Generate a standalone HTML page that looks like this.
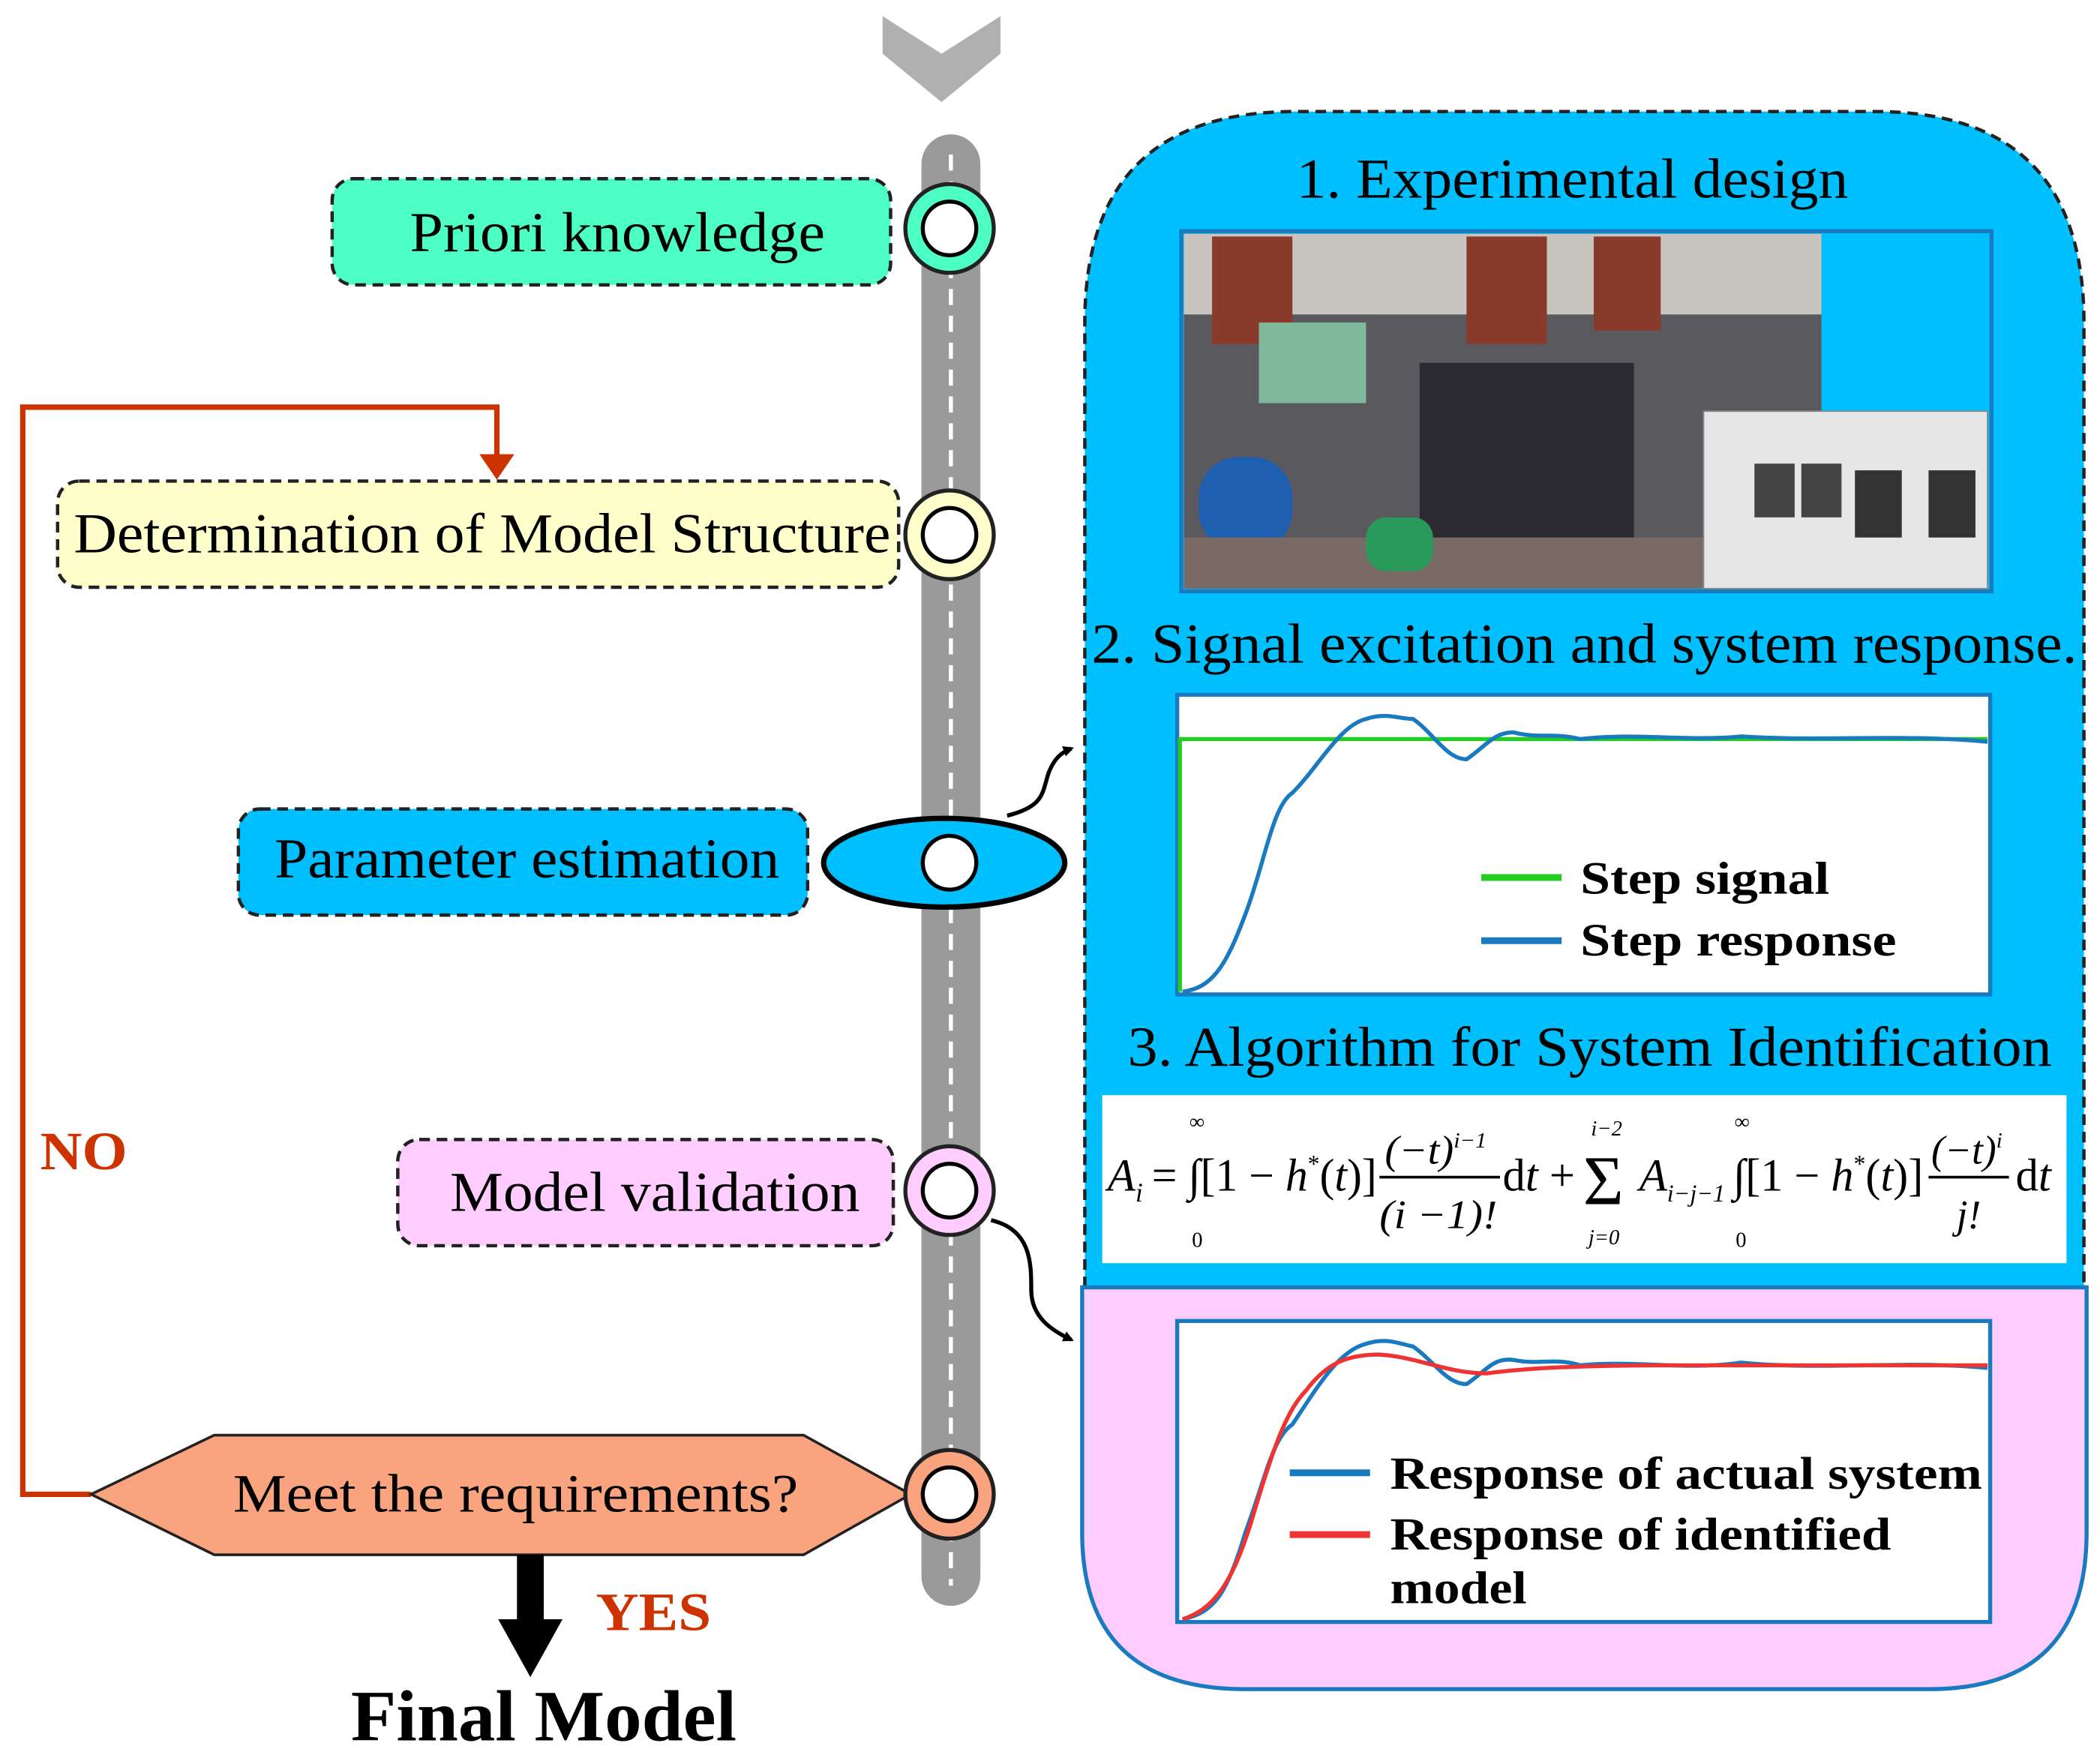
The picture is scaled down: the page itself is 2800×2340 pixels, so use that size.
<!DOCTYPE html>
<html><head><meta charset="utf-8"><style>html,body{margin:0;padding:0;background:#fff}svg{display:block}</style></head><body>
<svg width="2800" height="2340" viewBox="0 0 1568 1306" preserveAspectRatio="none" xmlns="http://www.w3.org/2000/svg" font-family="'Liberation Serif',serif">
<defs>
<marker id="ab" markerWidth="8" markerHeight="8" refX="6" refY="4" orient="auto" markerUnits="userSpaceOnUse"><path d="M0,0 L8,4 L0,8 z" fill="#000"/></marker>
</defs>
<rect width="1568" height="1306" fill="#fff"/>
<path d="M659,12 L703,40 L747,12 L747,40 L703,76 L659,40 Z" fill="#b0b0b0"/>
<path d="M665,14 L703,38 L741,14" fill="none" stroke="#fff" stroke-width="3"/>
<rect x="688" y="100" width="44" height="1095" rx="22" fill="#9a9a9a"/>
<line x1="710" y1="115" x2="710" y2="1180" stroke="#fff" stroke-width="3" stroke-dasharray="12,8"/>
<polyline points="68,1112 17,1112 17,303 371,303 371,340" fill="none" stroke="#cc3300" stroke-width="4"/>
<path d="M358,338 L384,338 L371,357 Z" fill="#cc3300"/>
<text x="30" y="870" font-size="40" font-weight="bold" fill="#cc3300" textLength="65" lengthAdjust="spacingAndGlyphs">NO</text>

<rect x="248" y="133" width="417" height="79" rx="16" fill="#4dffc4" stroke="#222" stroke-width="2.5" stroke-dasharray="8,5"/>
<text x="306" y="187" font-size="42" textLength="310" lengthAdjust="spacingAndGlyphs">Priori knowledge</text>
<circle cx="709" cy="170" r="33" fill="#4dffc4" stroke="#222" stroke-width="3"/>
<circle cx="709" cy="170" r="20" fill="#fff" stroke="#000" stroke-width="3"/>

<rect x="43" y="358" width="628" height="79" rx="16" fill="#ffffcc" stroke="#222" stroke-width="2.5" stroke-dasharray="8,5"/>
<text x="55" y="411" font-size="42" textLength="610" lengthAdjust="spacingAndGlyphs">Determination of Model Structure</text>
<circle cx="709" cy="398" r="33" fill="#ffffcc" stroke="#222" stroke-width="3"/>
<circle cx="709" cy="398" r="20" fill="#fff" stroke="#000" stroke-width="3"/>

<rect x="178" y="602" width="425" height="79" rx="16" fill="#00bfff" stroke="#222" stroke-width="2.5" stroke-dasharray="8,5"/>
<text x="205" y="653" font-size="42" textLength="377" lengthAdjust="spacingAndGlyphs">Parameter estimation</text>
<ellipse cx="705" cy="642" rx="90" ry="33" fill="#00bfff" stroke="#000" stroke-width="4"/>
<circle cx="709" cy="642" r="20" fill="#fff" stroke="#000" stroke-width="3"/>

<rect x="297" y="848" width="370" height="79" rx="16" fill="#ffccff" stroke="#222" stroke-width="2.5" stroke-dasharray="8,5"/>
<text x="336" y="901" font-size="42" textLength="306" lengthAdjust="spacingAndGlyphs">Model validation</text>
<circle cx="709" cy="886" r="33" fill="#ffccff" stroke="#222" stroke-width="3"/>
<circle cx="709" cy="886" r="20" fill="#fff" stroke="#000" stroke-width="3"/>

<polygon points="68,1112 160,1068 600,1068 680,1112 600,1157 160,1157" fill="#f9a47f" stroke="#222" stroke-width="2"/>
<text x="174" y="1125" font-size="40" textLength="422" lengthAdjust="spacingAndGlyphs">Meet the requirements?</text>
<circle cx="709" cy="1112" r="33" fill="#f9a47f" stroke="#222" stroke-width="3"/>
<circle cx="709" cy="1112" r="20" fill="#fff" stroke="#000" stroke-width="3"/>
<rect x="386" y="1157" width="20" height="50" fill="#000"/>
<path d="M372,1205 L420,1205 L396,1248 Z" fill="#000"/>
<text x="445" y="1213" font-size="40" font-weight="bold" fill="#cc3300" textLength="86" lengthAdjust="spacingAndGlyphs">YES</text>
<text x="262" y="1295" font-size="54" font-weight="bold" textLength="288" lengthAdjust="spacingAndGlyphs">Final Model</text>
<path d="M752,607 C780,600 778,590 783,575 C787,565 792,560 800,557" fill="none" stroke="#000" stroke-width="3" marker-end="url(#ab)"/>
<path d="M740,908 C770,915 770,940 770,960 C770,980 785,990 800,997" fill="none" stroke="#000" stroke-width="3" marker-end="url(#ab)"/>

<path d="M808,958 L808,1140 Q808,1257 930,1257 L1440,1257 Q1558,1257 1558,1140 L1558,958 Z" fill="#ffccff" stroke="#1a7abf" stroke-width="3"/>
<path d="M810,958 L810,240 Q810,83 967,83 L1400,83 Q1556,83 1556,240 L1556,958 Z" fill="#00bfff" stroke="#222" stroke-width="2.5" stroke-dasharray="8,5"/>
<line x1="808" y1="958" x2="1558" y2="958" stroke="#1a7abf" stroke-width="3"/>
<text x="968" y="147" font-size="42" textLength="412" lengthAdjust="spacingAndGlyphs">1. Experimental design</text>
<rect x="882" y="172" width="605" height="268" fill="#00bfff" stroke="#1a7abf" stroke-width="3"/>
<rect x="884" y="174" width="476" height="264" fill="#5a5a5e"/>
<rect x="884" y="174" width="476" height="60" fill="#c8c4c0"/>
<rect x="905" y="176" width="60" height="80" fill="#8a3a2a"/>
<rect x="1095" y="176" width="60" height="80" fill="#8a3a2a"/>
<rect x="1190" y="176" width="50" height="70" fill="#8a3a2a"/>
<rect x="940" y="240" width="80" height="60" fill="#7fb89a"/>
<rect x="1060" y="270" width="160" height="130" fill="#2a2a30"/>
<rect x="895" y="340" width="70" height="70" rx="30" fill="#1f5fb0"/>
<rect x="884" y="400" width="476" height="38" fill="#7a6a66"/>
<rect x="1020" y="385" width="50" height="40" rx="15" fill="#2a9a5a"/>
<rect x="1272" y="306" width="212" height="132" fill="#e6e6e6" stroke="#888"/>
<rect x="1385" y="350" width="35" height="50" fill="#333"/>
<rect x="1440" y="350" width="35" height="50" fill="#333"/>
<rect x="1310" y="345" width="30" height="40" fill="#444"/>
<rect x="1345" y="345" width="30" height="40" fill="#444"/>
<text x="815" y="493" font-size="42" textLength="736" lengthAdjust="spacingAndGlyphs">2. Signal excitation and system response.</text>
<rect x="879" y="517" width="607" height="223" fill="#fff" stroke="#1a7abf" stroke-width="3"/>
<polyline points="881,738 881,550 1484,550" fill="none" stroke="#22cc22" stroke-width="3"/>
<path d="M883,738 C905,735 915,720 930,680 C945,640 950,600 965,590 C985,570 1000,540 1020,535 C1035,530 1045,535 1055,535 C1070,545 1080,565 1095,565 C1110,555 1115,545 1130,545 C1150,550 1160,545 1180,550 C1220,545 1260,552 1300,548 C1360,552 1420,546 1484,552" fill="none" stroke="#1a7abf" stroke-width="3"/>
<line x1="1106" y1="653" x2="1166" y2="653" stroke="#22cc22" stroke-width="5"/>
<line x1="1106" y1="700" x2="1166" y2="700" stroke="#1a7abf" stroke-width="5"/>
<text x="1180" y="665" font-size="34" font-weight="bold" textLength="186" lengthAdjust="spacingAndGlyphs">Step signal</text>
<text x="1180" y="711" font-size="34" font-weight="bold" textLength="236" lengthAdjust="spacingAndGlyphs">Step response</text>
<text x="842" y="793" font-size="42" textLength="690" lengthAdjust="spacingAndGlyphs">3. Algorithm for System Identification</text>
<rect x="823" y="815" width="720" height="125" fill="#fff"/>
<g font-size="34">
<text x="827" y="886" font-style="italic">A<tspan font-size="20" dy="8">i</tspan></text>
<text x="860" y="886" textLength="168" lengthAdjust="spacingAndGlyphs">= ∫[1 − <tspan font-style="italic">h</tspan><tspan font-size="18" dy="-14">*</tspan><tspan dy="14">(</tspan><tspan font-style="italic">t</tspan>)]</text>
<text x="888" y="840" font-size="16">∞</text><text x="890" y="928" font-size="16">0</text>
<text x="1034" y="866" font-size="30" font-style="italic" textLength="76" lengthAdjust="spacingAndGlyphs">(−t)<tspan font-size="16" dy="-12">i−1</tspan></text>
<line x1="1030" y1="876" x2="1120" y2="876" stroke="#000" stroke-width="2"/>
<text x="1030" y="914" font-size="30" font-style="italic" textLength="88" lengthAdjust="spacingAndGlyphs">(i −1)!</text>
<text x="1122" y="886" textLength="54" lengthAdjust="spacingAndGlyphs">d<tspan font-style="italic">t</tspan> +</text>
<text x="1182" y="896" font-size="52">Σ</text>
<text x="1188" y="845" font-size="16" font-style="italic">i−2</text>
<text x="1186" y="926" font-size="16" font-style="italic">j=0</text>
<text x="1224" y="886" font-style="italic">A<tspan font-size="18" dy="8">i−j−1</tspan></text>
<text x="1294" y="886" textLength="142" lengthAdjust="spacingAndGlyphs">∫[1 − <tspan font-style="italic">h</tspan><tspan font-size="18" dy="-14">*</tspan><tspan dy="14">(</tspan><tspan font-style="italic">t</tspan>)]</text>
<text x="1295" y="840" font-size="16">∞</text><text x="1296" y="928" font-size="16">0</text>
<text x="1442" y="866" font-size="30" font-style="italic">(−t)<tspan font-size="16" dy="-12">i</tspan></text>
<line x1="1440" y1="876" x2="1500" y2="876" stroke="#000" stroke-width="2"/>
<text x="1470" y="914" font-size="30" font-style="italic" text-anchor="middle">j!</text>
<text x="1505" y="886">d<tspan font-style="italic">t</tspan></text>
</g>
<rect x="879" y="983" width="607" height="224" fill="#fff" stroke="#1a7abf" stroke-width="3"/>
<path d="M883,1205 C905,1200 915,1190 930,1140 C945,1100 950,1070 965,1060 C985,1030 1000,1005 1020,1000 C1035,995 1045,1000 1055,1002 C1070,1012 1080,1030 1095,1030 C1110,1020 1115,1010 1130,1012 C1150,1016 1160,1010 1180,1016 C1220,1012 1260,1020 1300,1014 C1360,1020 1420,1012 1484,1018" fill="none" stroke="#1a7abf" stroke-width="3"/>
<path d="M883,1205 C905,1198 920,1180 935,1130 C950,1080 960,1050 975,1035 C990,1015 1005,1008 1030,1008 C1060,1010 1080,1022 1110,1022 C1140,1018 1180,1016 1250,1016 C1350,1016 1420,1016 1484,1016" fill="none" stroke="#ee3333" stroke-width="3"/>
<line x1="963" y1="1096" x2="1023" y2="1096" stroke="#1a7abf" stroke-width="5"/>
<line x1="963" y1="1142" x2="1023" y2="1142" stroke="#ee3333" stroke-width="5"/>
<text x="1038" y="1108" font-size="34" font-weight="bold" textLength="442" lengthAdjust="spacingAndGlyphs">Response of actual system</text>
<text x="1038" y="1153" font-size="34" font-weight="bold" textLength="374" lengthAdjust="spacingAndGlyphs">Response of identified</text>
<text x="1038" y="1193" font-size="34" font-weight="bold" textLength="102" lengthAdjust="spacingAndGlyphs">model</text>
</svg>
</body></html>
